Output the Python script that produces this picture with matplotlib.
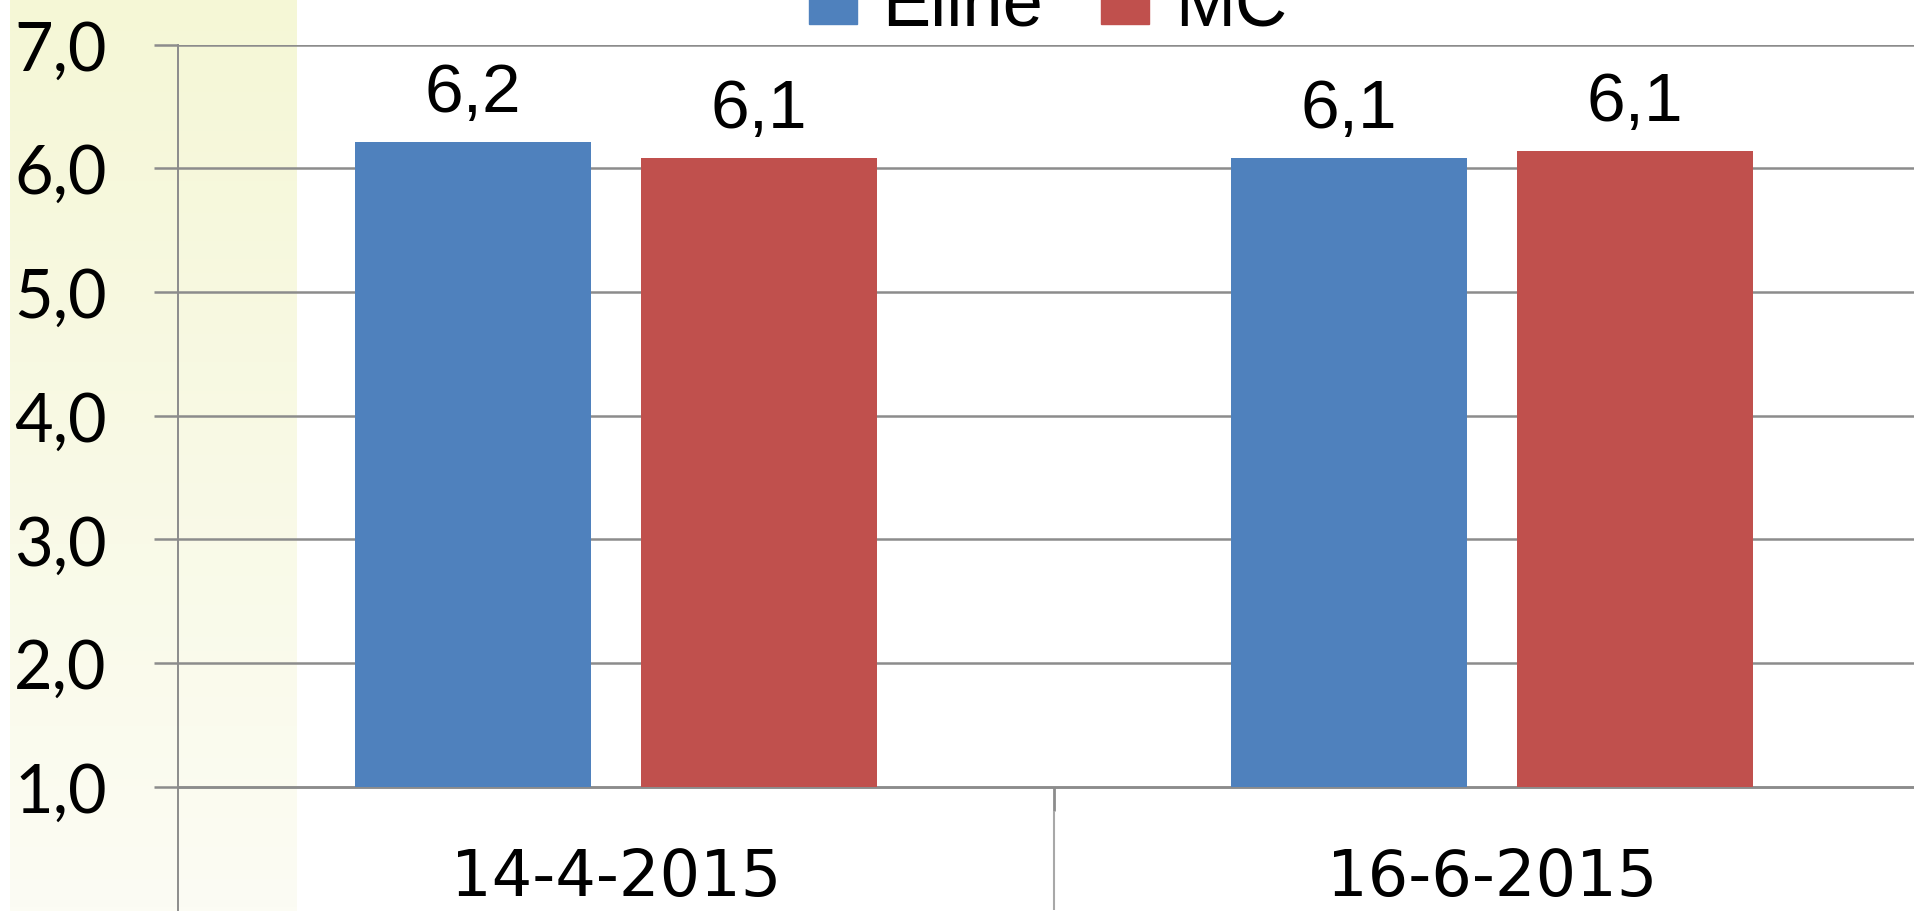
import matplotlib
matplotlib.use("Agg")
from matplotlib import pyplot as plt
from matplotlib.patches import Patch
import numpy as np

# data
dates = ["14-4-2015", "16-6-2015"]
series_names = ["Eline", "MC"]
eline = [6.21, 6.08]
mc = [6.08, 6.14]
eline_labels = ["6,2", "6,1"]
mc_labels = ["6,1", "6,1"]
y_ticks = [1, 2, 3, 4, 5, 6, 7]
y_tick_labels = ["1,0", "2,0", "3,0", "4,0", "5,0", "6,0", "7,0"]

BLUE = "#4f81bd"
RED = "#c0504d"
GRID = "#8c8c8c"
LABEL_FONT = ["Liberation Sans", "DejaVu Sans"]

W, H = 1914, 912
fig = plt.figure(figsize=(W / 100, H / 100), dpi=100)

# pale yellow band behind the value axis
bg = fig.add_axes([10 / W, 0, 286 / W, 1], zorder=0)
t = np.linspace(0, 1, 256)[:, None, None]
top = np.array([245, 247, 214]) / 255
bot = np.array([252, 252, 244]) / 255
bg.imshow(top * (1 - t) + bot * t, aspect="auto", extent=[0, 1, 0, 1])
bg.axis("off")

ax = fig.add_axes([178 / W, 0.6 / H, 1752 / W, 865.9 / H], zorder=1)
ax.patch.set_alpha(0)

x = np.arange(len(dates))
w = 0.27
off = 0.163
ax.bar(x - off, np.array(eline) - 1, bottom=1, width=w, color=BLUE, zorder=3)
ax.bar(x + off, np.array(mc) - 1, bottom=1, width=w, color=RED, zorder=3)

for xi, v, lbl in zip(x - off, eline, eline_labels):
    ax.annotate(lbl, (xi, v), xytext=(0, 22.5), textcoords="offset points",
                ha="center", va="baseline", fontsize=50, family=LABEL_FONT)
for xi, v, lbl in zip(x + off, mc, mc_labels):
    ax.annotate(lbl, (xi, v), xytext=(0, 22.5), textcoords="offset points",
                ha="center", va="baseline", fontsize=50, family=LABEL_FONT)

ax.set_xlim(-0.5, 1.5)
ax.set_ylim(0, 7)
ax.set_yticks(y_ticks, y_tick_labels)
ax.yaxis.grid(True, color=GRID, lw=1.8)
ax.set_axisbelow(True)
ax.tick_params(axis="y", length=17.3, width=1.8, color=GRID, labelsize=48, pad=34)
for lab in ax.get_yticklabels():
    lab.set_family(["Lato", "DejaVu Sans"])

ax.set_xticks(x, dates)
ax.set_xticks([0.5], minor=True)
ax.tick_params(axis="x", which="major", length=0, labelsize=46, pad=43)
ax.tick_params(axis="x", which="minor", length=17.3, width=2, color=GRID)
for lab in ax.get_xticklabels():
    lab.set_family(["Roboto", "DejaVu Sans"])
ax.vlines(0.5, 0, 1 - 24 / 123.7, color="#a8a8a8", lw=1.5)

for s in ["top", "right"]:
    ax.spines[s].set_visible(False)
ax.spines["left"].set_color(GRID)
ax.spines["left"].set_linewidth(1.4)
ax.spines["bottom"].set_position(("data", 1))
ax.spines["bottom"].set_color(GRID)
ax.spines["bottom"].set_linewidth(1.8)

fig.legend(handles=[Patch(color=BLUE), Patch(color=RED)], labels=series_names,
           loc="center", bbox_to_anchor=(1048 / W, (H - 7.5) / H), ncol=2,
           frameon=False, prop={"family": LABEL_FONT, "size": 52},
           handlelength=0.66, handleheight=0.66, handletextpad=0.36,
           columnspacing=0.8, borderpad=0)

fig.savefig("out.png", dpi=100)
